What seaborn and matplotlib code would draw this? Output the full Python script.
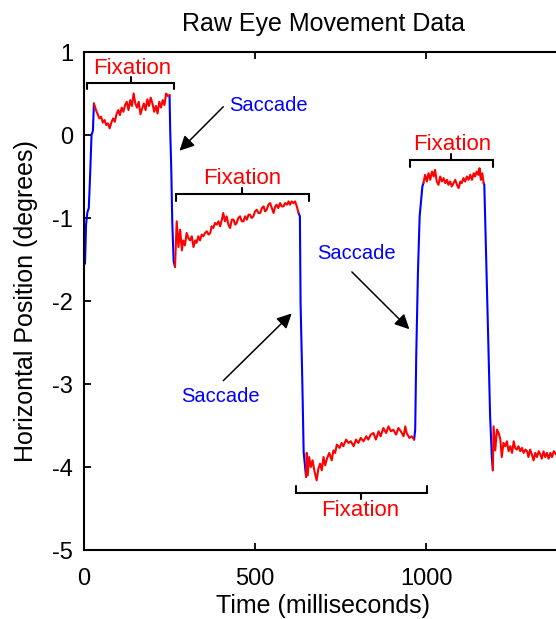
import matplotlib
matplotlib.use("Agg")
import matplotlib.pyplot as plt
import seaborn as sns
import pandas as pd

# ---------------- data (ms, degrees) ----------------
sac1_t = [3, 6, 10, 14, 18, 22, 26, 29]
sac1_y = [-1.55, -1.08, -0.93, -0.88, -0.47, 0.0, 0.05, 0.38]

fix1_t = [29, 35, 40, 45, 50, 55, 60, 65, 70, 75, 80, 85, 90, 95, 100, 105, 110, 115,
          120, 125, 130, 135, 140, 145, 150, 155, 160, 165, 170, 175, 180, 185, 190,
          195, 200, 205, 210, 215, 220, 225, 230, 235, 240, 245, 250]
fix1_y = [0.38, 0.30, 0.25, 0.20, 0.22, 0.15, 0.18, 0.12, 0.14, 0.08,
          0.15, 0.20, 0.16, 0.25, 0.30, 0.24, 0.33, 0.28, 0.36, 0.40,
          0.30, 0.42, 0.35, 0.50, 0.38, 0.33, 0.40, 0.25, 0.32, 0.38,
          0.30, 0.43, 0.35, 0.45, 0.38, 0.28, 0.35, 0.26, 0.40, 0.33,
          0.42, 0.36, 0.50, 0.47, 0.48]

sac2_t = [250, 252, 255, 258, 262, 266]
sac2_y = [0.48, 0.05, -0.40, -1.05, -1.52, -1.59]

fix2_t = [266, 271, 276, 281, 286, 290, 295, 300, 305, 310,
          315, 320, 325, 329, 334, 339, 344, 349, 354, 359,
          364, 369, 373, 378, 383, 388, 393, 398, 403, 407,
          412, 417, 422, 427, 432, 437, 442, 446, 451, 456,
          461, 466, 471, 476, 481, 485, 490, 495, 500, 505,
          510, 515, 520, 525, 529, 534, 539, 544, 549, 554,
          559, 563, 568, 573, 578, 583, 588, 593, 598, 602,
          607, 612, 617, 622, 627]
fix2_y = [-1.59, -1.04, -1.35, -1.14, -1.39, -1.27, -1.33, -1.18, -1.24, -1.27,
          -1.22, -1.35, -1.27, -1.30, -1.22, -1.27, -1.20, -1.22, -1.18, -1.16,
          -1.20, -1.18, -1.10, -1.12, -1.06, -1.08, -1.04, -1.10, -1.02, -0.94,
          -1.04, -0.98, -1.08, -1.12, -1.02, -1.02, -1.08, -1.06, -1.00, -0.98,
          -1.04, -1.04, -0.98, -1.02, -0.96, -0.96, -1.00, -0.98, -0.92, -0.90,
          -0.94, -0.94, -0.88, -0.86, -0.92, -0.90, -0.84, -0.82, -0.88, -0.94,
          -0.86, -0.84, -0.88, -0.82, -0.86, -0.86, -0.82, -0.84, -0.80, -0.84,
          -0.80, -0.82, -0.80, -0.86, -0.94]

sac3_t = [627, 631, 633, 638, 642, 649]
sac3_y = [-0.94, -0.98, -2.03, -2.95, -3.82, -4.12]

fix3_t = [649, 651, 654, 658, 663, 668, 673, 680, 685, 690,
          695, 700, 705, 710, 717, 724, 729, 734, 739, 747,
          753, 758, 766, 773, 780, 788, 795, 802, 809, 817,
          825, 831, 838, 846, 853, 861, 867, 875, 883, 890,
          897, 904, 912, 919, 926, 934, 939, 943, 951, 958, 965]
fix3_y = [-4.12, -3.83, -4.10, -3.88, -4.00, -3.92, -4.04, -4.16, -4.02, -3.96,
          -4.04, -3.88, -3.98, -3.90, -3.83, -3.92, -3.80, -3.83, -3.73, -3.77,
          -3.71, -3.75, -3.67, -3.71, -3.69, -3.75, -3.67, -3.71, -3.65, -3.69,
          -3.63, -3.67, -3.61, -3.59, -3.67, -3.57, -3.63, -3.53, -3.59, -3.51,
          -3.57, -3.55, -3.61, -3.53, -3.57, -3.63, -3.51, -3.59, -3.65, -3.63, -3.67]

sac4_t = [965, 968, 971, 976, 981, 989, 992]
sac4_y = [-3.67, -3.55, -2.67, -1.66, -0.98, -0.62, -0.58]

fix4_t = [992, 997, 1002, 1007, 1012, 1017, 1022, 1026, 1031, 1036,
          1041, 1046, 1051, 1056, 1061, 1065, 1070, 1075, 1080, 1085,
          1090, 1095, 1100, 1104, 1109, 1114, 1119, 1124, 1129, 1134,
          1139, 1143, 1148, 1153, 1156, 1160, 1164, 1168]
fix4_y = [-0.58, -0.48, -0.56, -0.46, -0.54, -0.44, -0.50, -0.42, -0.56, -0.60,
          -0.50, -0.56, -0.52, -0.58, -0.54, -0.60, -0.56, -0.62, -0.58, -0.54,
          -0.60, -0.64, -0.56, -0.58, -0.52, -0.56, -0.50, -0.54, -0.48, -0.54,
          -0.46, -0.50, -0.44, -0.48, -0.40, -0.54, -0.46, -0.58]

sac5_t = [1168, 1170, 1176, 1182, 1187, 1192, 1195]
sac5_y = [-0.58, -0.60, -1.57, -2.55, -3.39, -3.88, -4.04]

fix5_t = [1195, 1197, 1202, 1207, 1212, 1217, 1221, 1226, 1231, 1236,
          1241, 1246, 1251, 1256, 1260, 1265, 1270, 1275, 1280, 1285,
          1290, 1295, 1299, 1304, 1309, 1314, 1319, 1324, 1329, 1334,
          1338, 1343, 1348, 1353, 1358, 1363, 1368, 1373, 1380, 1387, 1395]
fix5_y = [-4.04, -3.51, -3.80, -3.55, -3.59, -3.67, -3.88, -3.71, -3.75, -3.69,
          -3.81, -3.75, -3.83, -3.69, -3.77, -3.79, -3.75, -3.81, -3.77, -3.83,
          -3.79, -3.81, -3.88, -3.79, -3.85, -3.92, -3.83, -3.88, -3.81, -3.85,
          -3.90, -3.81, -3.88, -3.83, -3.90, -3.83, -3.88, -3.81, -3.85, -3.83, -3.87]

# Annotation content
fix_label = "Fixation"
sac_label = "Saccade"
# bracket: (start ms, end ms, level deg, side) side=+1 label above, -1 below
fix_brackets = [(9, 263, 0.63, 1), (268, 658, -0.71, 1), (953, 1195, -0.30, 1), (620, 1002, -4.31, -1)]
fix_label_pos = [(140, 0.80), (462, -0.52), (1076, -0.12), (808, -4.53)]
sac_label_pos = [(538, 0.36), (398, -3.15), (795, -1.43)]
sac_arrows = [((407, 0.34), (279, -0.19)), ((407, -2.96), (607, -2.15)), ((783, -1.65), (951, -2.34))]

# ---------------- build table ----------------
segments = [("saccade", sac1_t, sac1_y), ("fixation", fix1_t, fix1_y),
            ("saccade", sac2_t, sac2_y), ("fixation", fix2_t, fix2_y),
            ("saccade", sac3_t, sac3_y), ("fixation", fix3_t, fix3_y),
            ("saccade", sac4_t, sac4_y), ("fixation", fix4_t, fix4_y),
            ("saccade", sac5_t, sac5_y), ("fixation", fix5_t, fix5_y)]
frames = []
for i, (kind, t, y) in enumerate(segments):
    frames.append(pd.DataFrame({"time": t, "pos": y, "kind": kind, "seg": i}))
df = pd.concat(frames, ignore_index=True)

# ---------------- plot ----------------
sns.set_style("ticks")
plt.rcParams["font.family"] = ["Liberation Sans", "DejaVu Sans"]
plt.rcParams["axes.unicode_minus"] = False
plt.rcParams["text.color"] = "black"
plt.rcParams["axes.labelcolor"] = "black"
plt.rcParams["xtick.color"] = "black"
plt.rcParams["ytick.color"] = "black"

W, H = 556, 619
fig = plt.figure(figsize=(W / 100, H / 100), dpi=100)
ax = fig.add_axes([84 / W, 1 - 550 / H, (563 - 84) / W, (550 - 52) / H])

sns.lineplot(data=df, x="time", y="pos", hue="kind", units="seg", estimator=None,
             sort=False, palette={"fixation": "#ff0000", "saccade": "#0000ff"},
             legend=False, linewidth=1.5, ax=ax)

ax.set_xlim(0, 1400)
ax.set_ylim(-5, 1)
ax.set_xticks([0, 500, 1000])
ax.set_yticks([-5, -4, -3, -2, -1, 0, 1])
ax.tick_params(direction="in", length=5, width=1.3, top=True, right=True,
               labelsize=17, color="black", labelcolor="black")
ax.tick_params(axis="x", pad=13)
ax.tick_params(axis="y", pad=8)
for s in ax.spines.values():
    s.set_linewidth(1.5)
    s.set_color("black")

ax.set_title("Raw Eye Movement Data", fontsize=18, pad=15, color="black")
ax.set_xlabel("Time (milliseconds)", fontsize=18, labelpad=3)
ax.set_ylabel("Horizontal Position (degrees)", fontsize=18, labelpad=10)

# brackets and fixation labels
for (a, b, lvl, side), (lx, ly) in zip(fix_brackets, fix_label_pos):
    end = -0.08 * side
    mid = 0.07 * side
    c = (a + b) / 2
    ax.plot([a, a, b, b], [lvl + end, lvl, lvl, lvl + end], color="black", lw=1.5,
            solid_joinstyle="miter")
    ax.plot([c, c], [lvl, lvl + mid], color="black", lw=1.5)
    ax.text(lx, ly, fix_label, color="#ff0000", fontsize=16, ha="center", va="center")

for (lx, ly) in sac_label_pos:
    ax.text(lx, ly, sac_label, color="#0000ff", fontsize=14.5, ha="center", va="center")

for tail, head in sac_arrows:
    ax.annotate("", xy=head, xytext=tail,
                arrowprops=dict(arrowstyle="-|>", color="black", lw=1.1,
                                mutation_scale=22, shrinkA=0, shrinkB=0))

fig.savefig("out.png", dpi=100)
